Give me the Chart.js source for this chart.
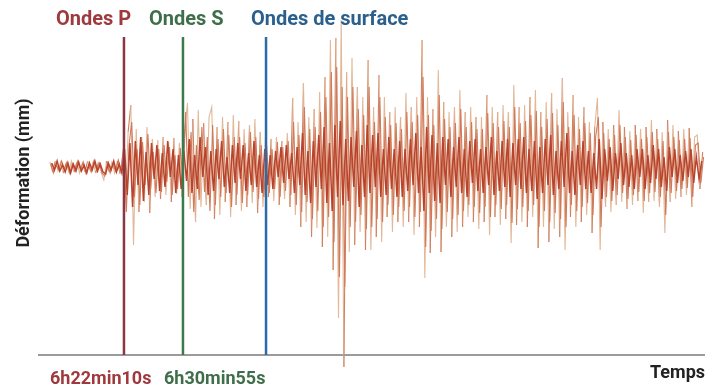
<!DOCTYPE html>
<html lang="fr">
<head>
   <meta charset="UTF-8" />
   <title>Sismogramme</title>
   <style>
      body {
         margin: 0;
         background-color: #ffffff;
      }
      .chart-box {
         position: relative;
         width: 711px;
         height: 385px;
      }
   </style>
   <script src="https://cdn.jsdelivr.net/npm/chart.js@4.4.1/dist/chart.umd.min.js"></script>
</head>
<body>
   <div class="chart-box">
      <canvas id="seismo"></canvas>
   </div>

   <script>
      // time axis, seconds after 6h00
      const timeMin = 565;
      const timeMax = 6500;
      const sampleStart = 671;
      const sampleStep = 24;

      // arrivals: P, S, surface waves
      const arrivalNames = ['Ondes P', 'Ondes S', 'Ondes de surface'];
      const arrivalTimes = [1330, 1855, 2594];
      const arrivalLabels = ['6h22min10s', '6h30min55s', ''];

      // deformation (arbitrary units, 0 = rest)
      const traceWide = [
          5, -5,  6, -4,  5, -6,  4, -5,  6, -5,
          5, -6,  4, -5,  6, -4,  5, -6,  5, -5,
        -13,  6, -5,  5, -6,  6, -7, 12,-30, 35,
         62,-78, 38,-45, 30,-35, 40,-46, 28,-30,
         27,-32, 30,-28, 25,-35, 29,-27, 24,-30,
         38, 64,-42, 48,-55, 57,-40, 44,-38, 50,
         60,-52, 40,-48, 50,-35, 45,-50, 52,-38,
         46,-44, 38,-40, 42,-36, 48,-46, 35,-40,
         36,-30, 28,-34, 30,-38, 26,-32, 34,-40,
         69,-48, 45,-60, 84,-55, 50,-70, 58,-61,
         75,-80, 90,-70,127,-103,129,-151,147,-200,
         95,-85,109,-78, 80,-65, 70,-83,107,-83,
         60,-70, 92,-75, 70,-50, 55,-65, 60,-55,
         50,-60, 74,-55, 60,-68, 70,-60,127,-111,
         70,-86, 58,-70, 97,-85, 65,-60, 55,-70,
         60,-65, 77,-60, 55,-50, 60,-55, 50,-62,
         50,-55, 72,-68, 60,-50, 55,-58, 62,-52,
         55,-76, 82,-58, 60,-55, 62,-60, 70,-50,
         77,-81, 55,-60, 65,-75, 74,-62, 58,-70,
         89,-83, 55,-50, 72,-60, 50,-55, 60,-48,
         45,-66, 40, 69,-83, 45,-40, 38,-45, 42,
        -38, 57,-35, 40,-42, 36,-38, 42,-34, 38,
        -46, 40,-35, 47,-34, 38,-40, 35,-66, 47,
        -35, 42,-32, 36,-30, 38,-28, 39,-40, 30,
         32,-22, 15
      ];

      const traceMid = [
          3, -6,  2, -3,  6, -2,  5, -6,  3, -4,
          6, -3,  5, -6,  2, -5,  6, -3,  4, -6,
         -9,  4, -6,  3, -4,  7, -4, 20,-45, 22,
         45,-30, 18,-38, 25,-18, 33,-22, 15,-26,
         18,-25, 22,-15, 20,-28, 12,-22, 19,-15,
         55,-30, 35,-45, 22,-33, 40,-25, 30,-44,
         42,-38, 28,-30, 38,-26, 32,-40, 30,-28,
         30,-36, 24,-28, 35,-25, 30,-32, 22,-30,
         22,-26, 18,-22, 25,-30, 20,-24, 26,-28,
         45,-38, 32,-45, 60,-35, 38,-52, 40,-44,
         55,-60, 70,-50, 95,-75,100,-110, 80,-120,
         70,-60, 80,-55, 58,-48, 52,-62, 80,-60,
         45,-52, 70,-55, 50,-38, 42,-48, 44,-40,
         38,-44, 55,-40, 45,-50, 52,-45, 90,-80,
         52,-64, 42,-52, 72,-62, 48,-45, 40,-52,
         44,-48, 58,-44, 40,-38, 45,-40, 38,-46,
         38,-40, 54,-50, 44,-38, 40,-42, 46,-38,
         40,-56, 60,-42, 44,-40, 46,-44, 52,-38,
         56,-60, 40,-44, 48,-55, 54,-46, 42,-52,
         65,-60, 40,-38, 52,-44, 38,-40, 44,-36,
         34,-48, 30, 50,-60, 34,-30, 28,-34, 32,
        -28, 42,-26, 30,-32, 27,-28, 32,-25, 28,
        -34, 30,-26, 35,-25, 28,-30, 26,-48, 35,
        -26, 30,-24, 27,-22, 28,-21, 29,-30, 22,
         24,-16, 10
      ];

      const traceCore = [
          4, -3,  6, -4,  2, -5,  4, -6,  3, -4,
          5, -4,  2, -6,  4, -3,  6, -4,  3, -5,
         -7,  4, -3,  6, -5,  3, -6, 18,-28, 24,
        -40, 26,-18, 30,-34, 15,-28, 24,-12, 22,
        -24, 14,-20, 26,-10, 18,-26, 12,-22, 16,
        -14, 28,-26, 12,-22, 30,-10, 20,-28, 16,
        -24, 18,-12, 26,-20, 10,-26, 22,-16, 24,
        -12, 22,-24, 14,-18, 26,-20, 12,-26, 18,
        -18, 12,-22, 16,-10, 20,-16, 22,-12, 14,
        -26, 20,-18, 34,-28, 16,-36, 26,-20, 32,
        -22, 40,-36, 24,-44, 42,-30, 46,-38, 28,
        -34, 30,-20, 36,-40, 22,-30, 42,-26, 32,
        -20, 34,-30, 18,-28, 30,-22, 18,-30, 26,
        -30, 18,-24, 28,-18, 34,-26, 20,-44, 40,
        -26, 32,-34, 24,-36, 30,-18, 28,-30, 20,
        -20, 30,-26, 18,-30, 26,-16, 28,-24, 18,
        -26, 20,-18, 30,-28, 16,-24, 26,-20, 28,
        -30, 24,-18, 28,-22, 30,-26, 18,-24, 26,
        -32, 20,-26, 28,-18, 32,-28, 16,-22, 26,
        -20, 34,-26, 16,-28, 22,-18, 26,-22, 16,
        -26, 14,-22, 28,-32, 18,-14, 20,-24, 14,
        -12, 24,-18, 14,-20, 12,-22, 18,-10, 18,
        -22, 12,-16, 22,-12, 18,-20, 10,-24, 20,
        -10, 18,-16, 12,-14, 16,-10, 18,-16, 10,
        -12,  6
      ];

      const yMin = -218;
      const yMax = 167;
      const axisLevel = -188;
      const lineTop = 130;

      const arrivalColors = ['#8c3543', '#3b7a4c', '#2d6aa8'];
      const nameColors = ['#9e3a3e', '#3f6e4a', '#2b5f8c'];

      function toPoints(values, offset) {
         return values.map((v, i) => ({ x: sampleStart + offset + i * sampleStep, y: v }));
      }

      const datasets = [];

      // axis line
      datasets.push({
         data: [{ x: timeMin, y: axisLevel }, { x: timeMax, y: axisLevel }],
         borderColor: '#7a7a7a',
         borderWidth: 1.5,
         order: 6
      });

      datasets.push({
         data: toPoints(traceWide, 0),
         borderColor: '#dfb190',
         borderWidth: 1.1,
         segment: {
            borderColor: ctx => (ctx.p0DataIndex % 4 === 1 ? '#cf8262' : '#e2b898')
         },
         order: 5
      });

      datasets.push({
         data: toPoints(traceMid, 8),
         borderColor: '#d07a5a',
         borderWidth: 1.1,
         order: 4
      });

      datasets.push({
         data: toPoints(traceCore, 16),
         borderColor: '#b8442e',
         borderWidth: 1.5,
         order: 3
      });

      arrivalTimes.forEach((t, k) => {
         datasets.push({
            data: [{ x: t, y: axisLevel }, { x: t, y: lineTop }],
            borderColor: arrivalColors[k],
            borderWidth: 2.5,
            order: 1
         });
      });

      const labelsPlugin = {
         id: 'labels',
         afterDraw(chart) {
            const ctx = chart.ctx;
            ctx.save();
            ctx.textBaseline = 'alphabetic';
            ctx.font = 'bold 20px Roboto';
            const namePos = [56, 149, 251];
            arrivalNames.forEach((name, k) => {
               ctx.fillStyle = nameColors[k];
               ctx.textAlign = 'left';
               ctx.fillText(name, namePos[k], 25);
            });

            ctx.font = 'bold 18px Roboto';
            const labelPos = [50, 164];
            arrivalLabels.forEach((lab, k) => {
               if (!lab) return;
               ctx.fillStyle = nameColors[k];
               ctx.fillText(lab, labelPos[k], 384);
            });

            ctx.fillStyle = '#222222';
            ctx.textAlign = 'right';
            ctx.fillText('Temps', 705, 378);

            ctx.translate(29, 173);
            ctx.rotate(-Math.PI / 2);
            ctx.textAlign = 'center';
            ctx.fillText('Déformation (mm)', 0, 0);
            ctx.restore();
         }
      };

      new Chart(document.getElementById('seismo'), {
         type: 'line',
         data: { datasets: datasets },
         options: {
            responsive: true,
            maintainAspectRatio: false,
            animation: false,
            layout: { padding: { left: 38, right: 6, top: 0, bottom: 0 } },
            elements: { point: { radius: 0 }, line: { tension: 0 } },
            plugins: { legend: { display: false }, tooltip: { enabled: false } },
            scales: {
               x: { type: 'linear', min: timeMin, max: timeMax, display: false },
               y: { min: yMin, max: yMax, display: false }
            }
         },
         plugins: [labelsPlugin]
      });
   </script>
</body>
</html>
